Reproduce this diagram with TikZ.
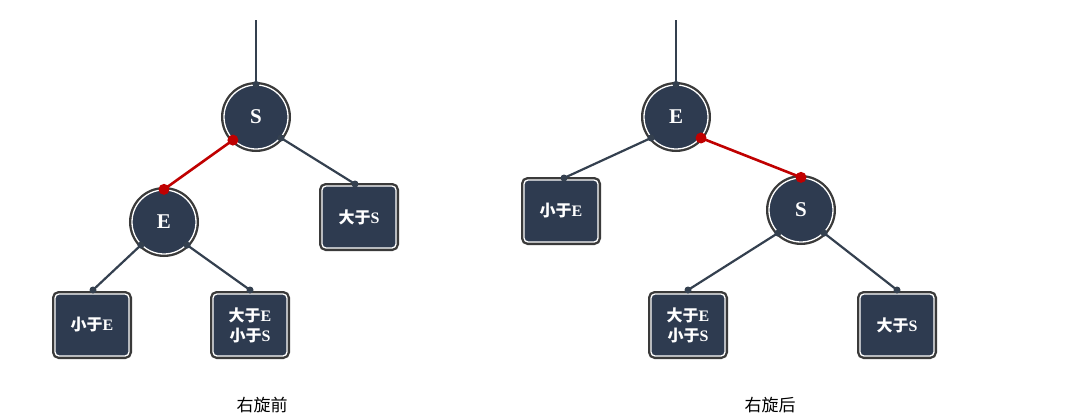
\documentclass[tikz,border=0pt]{standalone}
\usepackage{fontspec}
\setmainfont{Liberation Serif}
\newfontfamily\cjk{Noto Sans CJK SC}
\definecolor{navy}{HTML}{2E3B50}
\definecolor{rim}{HTML}{3A3A3A}
\definecolor{edge}{HTML}{34404F}
\definecolor{redl}{HTML}{C00000}
\tikzset{
 circ/.style={circle,minimum size=64pt,inner sep=0pt,fill=navy,draw=white,line width=1.3pt,
   preaction={draw=rim,line width=6pt},text=white,font=\fontsize{21}{21}\selectfont\bfseries},
 boxn/.style={rectangle,rounded corners=4pt,minimum width=74pt,minimum height=62pt,fill=navy,draw=white,line width=1.3pt,
   preaction={draw=rim,line width=6pt},text=white,align=center,font=\fontsize{16}{20}\selectfont\bfseries},
 ln/.style={draw=edge,line width=2.2pt},
 rl/.style={draw=redl,line width=2.6pt},
 dt/.style={circle,fill=edge,inner sep=0pt,minimum size=7pt},
 rd/.style={circle,fill=redl,inner sep=0pt,minimum size=11pt},
 captxt/.style={font=\fontsize{17}{20}\selectfont\cjk,text=black}
}
\begin{document}
\begin{tikzpicture}[x=1pt,y=-1pt]
\useasboundingbox[fill=white] (0,0) rectangle (1080,418);
% left tree
\coordinate (t1) at (256,20);
\node[circ] (S1) at (256,117) {S};
\node[circ] (E1) at (164,222) {E};
\node[boxn] (B1) at (359,217) {{\cjk 大于}S};
\node[boxn] (B2) at (92,325) {{\cjk 小于}E};
\node[boxn] (B3) at (250,325) {{\cjk 大于}E\\{\cjk 小于}S};
\coordinate (b1t) at (355,184);
\coordinate (b2t) at (93,290);
\coordinate (b3t) at (250,290);
\draw[ln] (t1) -- (S1.north);
\node[dt] at (S1.north) {};
\draw[rl] (S1.225) -- (E1.north);
\node[rd] at (S1.225) {};
\node[rd] at (E1.north) {};
\draw[ln] (S1.-40) -- (b1t);
\node[dt] at (S1.-40) {}; \node[dt] at (b1t) {};
\draw[ln] (E1.225) -- (b2t);
\node[dt] at (E1.225) {}; \node[dt] at (b2t) {};
\draw[ln] (E1.-45) -- (b3t);
\node[dt] at (E1.-45) {}; \node[dt] at (b3t) {};
% right tree
\coordinate (t2) at (676,20);
\node[circ] (E2) at (676,117) {E};
\node[circ] (S2) at (801,210) {S};
\node[boxn] (C1) at (561,211) {{\cjk 小于}E};
\node[boxn] (C2) at (688,325) {{\cjk 大于}E\\{\cjk 小于}S};
\node[boxn] (C3) at (897,325) {{\cjk 大于}S};
\coordinate (c1t) at (564,178);
\coordinate (c2t) at (688,290);
\coordinate (c3t) at (897,290);
\draw[ln] (t2) -- (E2.north);
\node[dt] at (E2.north) {};
\draw[rl] (E2.-40) -- (S2.north);
\node[rd] at (E2.-40) {}; \node[rd] at (S2.north) {};
\draw[ln] (E2.220) -- (c1t);
\node[dt] at (E2.220) {}; \node[dt] at (c1t) {};
\draw[ln] (S2.225) -- (c2t);
\node[dt] at (S2.225) {}; \node[dt] at (c2t) {};
\draw[ln] (S2.-45) -- (c3t);
\node[dt] at (S2.-45) {}; \node[dt] at (c3t) {};
\node[captxt] (L1) at (262,405) {右旋前};
\node[captxt] (L2) at (770,405) {右旋后};
\end{tikzpicture}
\end{document}
